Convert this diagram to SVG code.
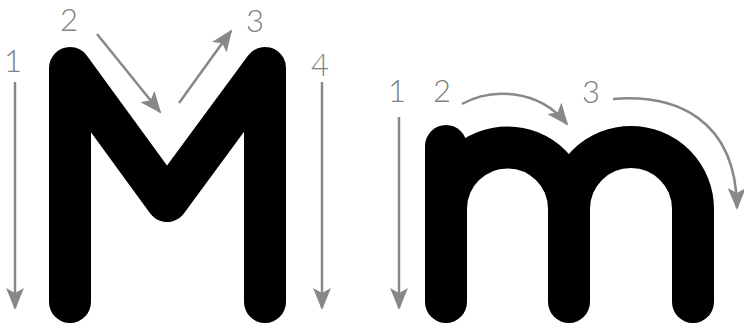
<svg xmlns="http://www.w3.org/2000/svg" width="744" height="329" viewBox="0 0 744 329">
  <style>
    .letter { fill: none; stroke: #000; stroke-width: 42; stroke-linecap: round; stroke-linejoin: round; }
    .arr { fill: none; stroke: #888; stroke-width: 2.5; marker-end: url(#head); }
    .num { font-family: Lato, "Open Sans", "Liberation Sans", sans-serif; font-weight: 300; font-size: 31px; fill: #808080; text-anchor: middle; }
  </style>
  <defs>
    <marker id="head" markerUnits="userSpaceOnUse" markerWidth="22" markerHeight="18" viewBox="0 0 22 18" refX="20" refY="9" orient="auto">
      <path d="M0,0 L22,9 L0,18 L5,9 Z" fill="#888"/>
    </marker>
  </defs>
  <rect width="744" height="329" fill="#fff"/>

  <g id="letter-M">
    <path class="letter" d="M70,302 L70,68 L167,201 L265,68 L265,302"/>
  </g>
  <g id="letter-m">
    <path class="letter" d="M446,146 L446,302"/>
    <path class="letter" d="M446,209 A61.5,61.5 0 0 1 569,209 L569,302" style="stroke-linecap:butt"/>
    <path class="letter" d="M569,302 L569,260"/>
    <path class="letter" d="M569,209 A62,62 0 0 1 693,209 L693,302"/>
  </g>

  <g id="connectors">
    <path class="arr" d="M15,82 L15,308"/>
    <path class="arr" d="M97,34 L160,112"/>
    <path class="arr" d="M179,103 L231,31"/>
    <path class="arr" d="M322,82 L322,308"/>
    <path class="arr" d="M399,117 L399,308"/>
    <path class="arr" d="M462,104 C490,88 538,88 567,124"/>
    <path class="arr" d="M613,99 C675,94 736,118 737,208"/>
  </g>

  <g id="labels">
    <text class="num" x="13" y="72">1</text>
    <text class="num" x="69" y="31">2</text>
    <text class="num" x="255" y="32">3</text>
    <text class="num" x="320" y="76">4</text>
    <text class="num" x="397" y="102">1</text>
    <text class="num" x="442" y="102">2</text>
    <text class="num" x="591" y="103">3</text>
  </g>
</svg>
